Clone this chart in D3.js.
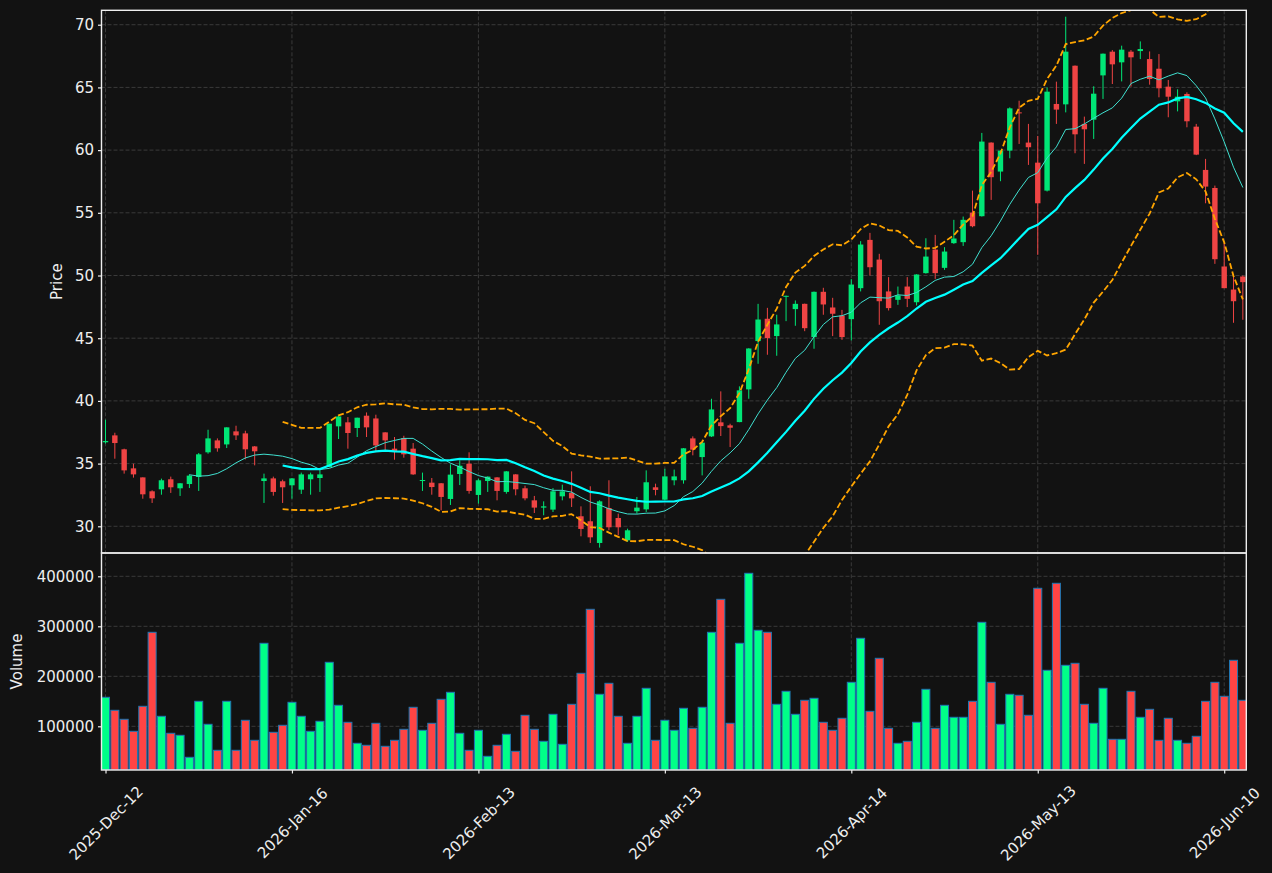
<!DOCTYPE html>
<html>
<head>
<meta charset="utf-8">
<script src="https://cdn.jsdelivr.net/npm/d3@7"></script>
<style>
  body { margin: 0; background: #121212; }
  text { font-family: "DejaVu Sans", sans-serif; }
</style>
</head>
<body>
<div id="chart"></div>
<script>
// x axis ticks (bar index -> label)
const tickIdx = [0, 20, 40, 60, 80, 100, 120];
const tickLabels = ['2025-Dec-12', '2026-Jan-16', '2026-Feb-13', '2026-Mar-13', '2026-Apr-14', '2026-May-13', '2026-Jun-10'];
const priceTicks = [30, 35, 40, 45, 50, 55, 60, 65, 70];
const volumeTicks = [100000, 200000, 300000, 400000];

// OHLC, one entry per trading day
const opens = [36.7, 37.25, 36.14, 34.62, 33.9, 32.79, 32.95, 33.75, 33.03, 33.37,
  33.93, 35.9, 36.85, 36.53, 37.57, 37.41, 36.37, 33.61, 33.82, 33.59,
  33.27, 32.92, 33.75, 33.85, 34.73, 37.97, 38.29, 37.84, 38.82, 38.6,
  37.49, 36.19, 37.04, 36.19, 33.61, 33.48, 33.43, 32.18, 34.17, 34.99,
  32.5, 33.61, 33.9, 32.74, 34.14, 33.03, 32.07, 31.49, 31.33, 32.39,
  32.66, 30.8, 30.4, 28.67, 31.46, 30.66, 28.88, 31.2, 31.35, 33.11,
  32.12, 33.67, 33.67, 37.01, 35.52, 37.17, 38.29, 38.05, 38.31, 40.92,
  44.77, 46.55, 45.17, 48.3, 47.32, 47.74, 45.09, 48.7, 47.45, 46.81,
  46.52, 48.99, 52.84, 51.27, 48.73, 48.06, 49.12, 47.87, 50.19, 52.07,
  50.61, 52.58, 52.66, 55.02, 54.73, 60.6, 58.29, 59.96, 63.01, 60.6,
  59.0, 56.77, 63.68, 63.65, 66.73, 62.09, 62.43, 65.96, 67.85, 67.0,
  67.85, 67.9, 67.26, 66.49, 65.06, 63.89, 64.48, 61.87, 58.42, 56.98,
  50.72, 48.88, 49.92];
const highs = [38.5, 37.46, 36.19, 34.99, 33.9, 32.87, 33.8, 33.96, 33.45, 34.14,
  35.84, 37.7, 37.01, 37.89, 38.02, 37.62, 36.4, 34.2, 33.96, 33.72,
  33.85, 34.28, 34.28, 34.54, 38.18, 38.8, 38.71, 38.66, 39.08, 38.9,
  37.5, 37.12, 37.22, 36.64, 34.28, 33.85, 33.45, 34.94, 35.26, 35.9,
  33.8, 33.98, 33.92, 34.4, 34.16, 33.24, 32.42, 31.99, 33.05, 33.32,
  34.38, 31.59, 33.19, 32.07, 33.67, 31.01, 29.81, 32.34, 34.46, 33.4,
  34.59, 34.52, 36.24, 37.17, 36.7, 40.17, 40.76, 38.18, 41.16, 44.2,
  47.74, 47.42, 46.87, 48.4, 48.01, 47.76, 48.72, 49.02, 48.22, 47.26,
  49.71, 52.74, 53.4, 51.73, 49.87, 49.12, 49.87, 50.1, 52.97, 53.24,
  52.26, 54.44, 54.7, 56.77, 61.37, 60.62, 59.98, 63.41, 63.94, 62.09,
  61.13, 65.0, 65.46, 70.64, 66.75, 62.67, 65.09, 67.7, 67.98, 68.33,
  67.98, 68.67, 67.87, 67.66, 65.59, 64.85, 64.61, 62.09, 59.3, 57.17,
  52.6, 50.1, 50.0];
const lows = [36.6, 35.39, 34.2, 33.88, 32.2, 31.86, 32.52, 32.66, 32.42, 33.05,
  32.82, 35.79, 35.95, 36.24, 36.88, 35.34, 34.86, 31.86, 32.44, 31.86,
  32.2, 32.58, 32.52, 32.74, 34.7, 36.96, 36.19, 37.12, 37.12, 35.92,
  36.06, 35.31, 35.47, 34.1, 32.82, 32.52, 31.27, 31.7, 33.29, 32.6,
  31.81, 32.74, 32.07, 32.6, 32.47, 32.07, 31.06, 30.88, 31.14, 32.07,
  31.54, 29.2, 28.67, 28.3, 29.68, 29.28, 28.75, 31.01, 31.14, 32.47,
  32.07, 33.27, 33.4, 35.66, 34.06, 37.12, 37.2, 36.32, 38.3, 40.17,
  42.96, 43.68, 43.6, 46.36, 45.99, 45.56, 44.16, 46.87, 45.17, 44.87,
  44.82, 48.73, 50.0, 46.07, 47.21, 47.66, 47.48, 47.61, 50.15, 49.73,
  50.45, 52.52, 52.36, 53.85, 54.7, 56.03, 57.52, 59.35, 60.49, 58.82,
  51.65, 56.7, 62.09, 63.01, 59.75, 58.9, 60.89, 64.08, 65.27, 65.48,
  65.06, 67.26, 65.22, 64.21, 62.62, 63.09, 61.82, 59.6, 55.76, 50.93,
  48.99, 46.23, 46.47];
const closes = [36.8, 36.64, 34.46, 34.14, 32.55, 32.23, 33.67, 33.11, 33.43, 34.04,
  35.74, 37.01, 36.22, 37.89, 37.25, 36.14, 35.98, 33.82, 32.74, 33.11,
  33.82, 34.14, 34.14, 34.14, 38.18, 38.76, 37.44, 38.66, 37.89, 36.45,
  36.85, 35.98, 35.74, 34.14, 33.69, 33.13, 32.34, 34.12, 34.83, 32.82,
  33.67, 33.96, 32.82, 34.38, 32.95, 32.23, 31.49, 31.59, 32.79, 32.79,
  32.23, 29.79, 29.12, 31.99, 29.92, 29.92, 29.68, 31.49, 33.51, 32.9,
  33.98, 33.98, 36.22, 36.11, 36.67, 39.32, 37.99, 37.86, 40.84, 44.18,
  46.49, 45.01, 46.1, 48.38, 47.74, 45.8, 48.7, 47.69, 46.95, 45.09,
  49.28, 52.47, 50.66, 47.95, 47.4, 48.41, 48.14, 50.08, 51.51, 50.19,
  51.91, 52.95, 54.44, 53.93, 60.68, 57.84, 59.96, 63.33, 62.93, 60.23,
  55.76, 64.66, 63.23, 67.85, 61.26, 61.66, 64.5, 67.69, 66.84, 68.01,
  67.4, 68.06, 65.67, 64.93, 64.26, 64.26, 62.3, 59.64, 57.09, 51.3,
  48.99, 47.95, 49.47];
const volumes = [158000, 132000, 114000, 90000, 140000, 288000, 120000, 86000, 82000, 38000,
  150000, 104000, 52000, 150000, 52000, 112000, 72000, 266000, 88000, 102000,
  148000, 120000, 90000, 110000, 228000, 142000, 108000, 66000, 62000, 106000,
  60000, 72000, 94000, 138000, 92000, 106000, 154000, 168000, 86000, 52000,
  92000, 40000, 62000, 84000, 50000, 122000, 94000, 70000, 124000, 64000,
  144000, 206000, 334000, 164000, 186000, 120000, 66000, 120000, 176000, 72000,
  112000, 92000, 136000, 96000, 138000, 288000, 354000, 106000, 266000, 406000,
  292000, 288000, 144000, 170000, 124000, 152000, 156000, 108000, 92000, 116000,
  188000, 276000, 130000, 236000, 96000, 66000, 70000, 108000, 174000, 96000,
  142000, 118000, 118000, 150000, 308000, 188000, 104000, 164000, 162000, 122000,
  376000, 212000, 386000, 222000, 226000, 144000, 106000, 176000, 74000, 74000,
  170000, 118000, 134000, 72000, 116000, 72000, 66000, 80000, 150000, 188000,
  160000, 232000, 152000];

const W = 1272, H = 873;
const left = 101.5, right = 1246.3;
const pTop = 10.3, pBot = 553, vBot = 770;
const upCol = '#00e676', downCol = '#ef4444';
const upVol = '#00ff88', downVol = '#ff4444';
const gridCol = '#3a3a3a', textCol = '#eeeeee';
const fontSize = 15;

// rolling stats over closes
function sma(arr, n) {
  return arr.map((_, i) => i < n - 1 ? null : d3.mean(arr.slice(i - n + 1, i + 1)));
}
function pstd(arr, n) {
  return arr.map((_, i) => {
    if (i < n - 1) return null;
    const s = arr.slice(i - n + 1, i + 1), m = d3.mean(s);
    return Math.sqrt(d3.mean(s, v => (v - m) * (v - m)));
  });
}
const ma10 = sma(closes, 10);
const ma20 = sma(closes, 20);
const sd20 = pstd(closes, 20);
const bbUp = ma20.map((m, i) => m == null ? null : m + 2 * sd20[i]);
const bbLo = ma20.map((m, i) => m == null ? null : m - 2 * sd20[i]);

const svg = d3.select('#chart').append('svg')
  .attr('width', W).attr('height', H)
  .style('background', '#121212');

const x = d3.scaleLinear().domain([-0.43, 122.37]).range([left, right]);
const yP = d3.scaleLinear().domain([27.87, 71.15]).range([pBot, pTop]);
const yV = d3.scaleLinear().domain([12600, 446600]).range([vBot, pBot]);
const step = x(1) - x(0);

const defs = svg.append('defs');
defs.append('clipPath').attr('id', 'clipP').append('rect')
  .attr('x', left).attr('y', pTop).attr('width', right - left).attr('height', pBot - pTop);
defs.append('clipPath').attr('id', 'clipV').append('rect')
  .attr('x', left).attr('y', pBot).attr('width', right - left).attr('height', vBot - pBot);

// grid
const grid = svg.append('g').attr('stroke', gridCol).attr('stroke-width', 1).attr('stroke-dasharray', '4,2');
priceTicks.forEach(t => grid.append('line').attr('x1', left).attr('x2', right).attr('y1', yP(t)).attr('y2', yP(t)));
volumeTicks.forEach(t => grid.append('line').attr('x1', left).attr('x2', right).attr('y1', yV(t)).attr('y2', yV(t)));
tickIdx.forEach(t => grid.append('line').attr('x1', x(t)).attr('x2', x(t)).attr('y1', pTop).attr('y2', vBot));

// candles
const idx = d3.range(closes.length);
const pG = svg.append('g').attr('clip-path', 'url(#clipP)');
const colOf = i => closes[i] >= opens[i] ? upCol : downCol;
pG.selectAll('.wick').data(idx).enter().append('line')
  .attr('x1', i => x(i)).attr('x2', i => x(i))
  .attr('y1', i => yP(highs[i])).attr('y2', i => yP(lows[i]))
  .attr('stroke', colOf).attr('stroke-width', 1);
const bodyW = step * 0.58;
pG.selectAll('.body').data(idx).enter().append('rect')
  .attr('x', i => x(i) - bodyW / 2).attr('width', bodyW)
  .attr('y', i => yP(Math.max(opens[i], closes[i])))
  .attr('height', i => Math.max(1, Math.abs(yP(opens[i]) - yP(closes[i]))))
  .attr('fill', colOf);

// moving averages and bands
const line = d3.line().defined(d => d[1] != null).x(d => x(d[0])).y(d => yP(d[1]));
const pts = arr => arr.map((v, i) => [i, v]);
[bbUp, bbLo].forEach(b => pG.append('path').attr('d', line(pts(b)))
  .attr('fill', 'none').attr('stroke', '#ffa500').attr('stroke-width', 1.8).attr('stroke-dasharray', '6,2.6'));
pG.append('path').attr('d', line(pts(ma10)))
  .attr('fill', 'none').attr('stroke', '#40e0d0').attr('stroke-width', 1);
pG.append('path').attr('d', line(pts(ma20)))
  .attr('fill', 'none').attr('stroke', '#00ffff').attr('stroke-width', 2.2);

// volume
const vG = svg.append('g').attr('clip-path', 'url(#clipV)');
const volW = step * 0.86;
vG.selectAll('.vol').data(idx).enter().append('rect')
  .attr('x', i => x(i) - volW / 2).attr('width', volW)
  .attr('y', i => yV(volumes[i])).attr('height', i => vBot - yV(volumes[i]))
  .attr('fill', i => closes[i] >= opens[i] ? upVol : downVol)
  .attr('stroke', '#1f77b4').attr('stroke-width', 1);

// axes
function styleAxis(g) {
  g.select('.domain').remove();
  g.selectAll('line').attr('stroke', textCol).attr('stroke-width', 1.2);
  g.selectAll('text').attr('fill', textCol).attr('font-size', fontSize);
}
svg.append('g').attr('transform', `translate(${left},0)`)
  .call(d3.axisLeft(yP).tickValues(priceTicks).tickSize(3.5).tickPadding(4).tickFormat(d3.format('d')))
  .call(styleAxis);
svg.append('g').attr('transform', `translate(${left},0)`)
  .call(d3.axisLeft(yV).tickValues(volumeTicks).tickSize(3.5).tickPadding(4).tickFormat(d3.format('d')))
  .call(styleAxis);
const xa = svg.append('g').attr('transform', `translate(0,${vBot})`)
  .call(d3.axisBottom(x).tickValues(tickIdx).tickSize(3.5).tickFormat((d, k) => tickLabels[k]))
  .call(styleAxis);
xa.selectAll('text')
  .attr('y', 0).attr('dy', '0.35em')
  .attr('text-anchor', 'middle')
  .attr('transform', 'translate(0,53) rotate(-45)');

// frames
svg.append('rect').attr('x', left).attr('y', pTop).attr('width', right - left).attr('height', pBot - pTop)
  .attr('fill', 'none').attr('stroke', textCol).attr('stroke-width', 1.4);
svg.append('rect').attr('x', left).attr('y', pBot).attr('width', right - left).attr('height', vBot - pBot)
  .attr('fill', 'none').attr('stroke', textCol).attr('stroke-width', 1.4);

// axis titles
svg.append('text').attr('transform', `translate(57,${(pTop + pBot) / 2}) rotate(-90)`)
  .attr('text-anchor', 'middle').attr('dy', '0.35em').attr('fill', textCol).attr('font-size', fontSize).text('Price');
svg.append('text').attr('transform', `translate(17,${(pBot + vBot) / 2}) rotate(-90)`)
  .attr('text-anchor', 'middle').attr('dy', '0.35em').attr('fill', textCol).attr('font-size', fontSize).text('Volume');
</script>
</body>
</html>
